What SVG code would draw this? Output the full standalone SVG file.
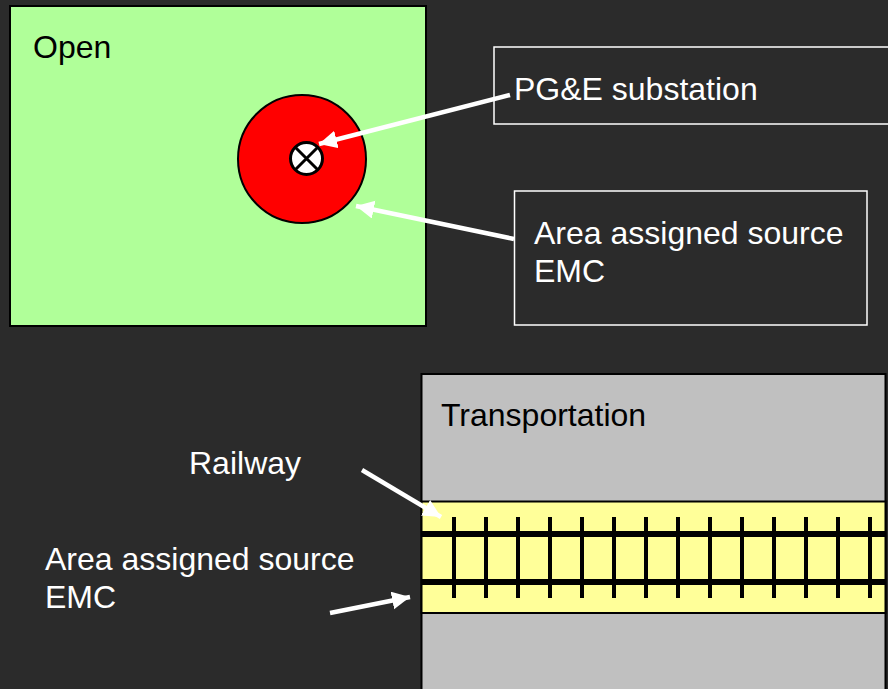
<svg xmlns="http://www.w3.org/2000/svg" width="888" height="689" viewBox="0 0 888 689">
<style>
text{font-family:"Liberation Sans",Arial,sans-serif;font-size:32px}
.w{fill:#fff}.k{fill:#000}
.box{fill:none;stroke:#fff;stroke-width:1.5}
.tie{stroke:#000;stroke-width:4;fill:none}
.rail{stroke:#000;stroke-width:6;fill:none}
.conn{stroke:#fff;stroke-width:4.5;fill:none;marker-end:url(#a)}
</style>
<defs>
<marker id="a" markerUnits="userSpaceOnUse" markerWidth="22" markerHeight="20" refX="18" refY="9" orient="auto"><path d="M0 0L18 9L0 18Z" fill="#fff"/></marker>
</defs>
<rect width="888" height="689" fill="#2b2b2b"/>
<g id="open">
<rect x="10" y="6" width="416" height="320" fill="#b0ff99" stroke="#000" stroke-width="2"/>
<text x="33" y="58" class="k">Open</text>
</g>
<g id="source-area">
<circle cx="302" cy="159" r="64" fill="#f00" stroke="#000" stroke-width="2"/>
</g>
<g id="substation">
<circle cx="306.500" cy="158.500" r="16" fill="#fff" stroke="#000" stroke-width="3"/>
<path d="M295.500 147.500L317.500 169.500M317.500 147.500L295.500 169.500" stroke="#000" stroke-width="3" fill="none"/>
</g>
<g id="label-substation">
<rect x="494" y="47" width="400" height="77" class="box"/>
<text x="514" y="100" class="w">PG&amp;E substation</text>
</g>
<g id="label-area">
<rect x="514.500" y="191" width="352.500" height="134" class="box"/>
<text x="534" y="244" class="w">Area assigned source</text>
<text x="534" y="282" class="w">EMC</text>
</g>
<g id="transportation">
<rect x="421.500" y="374" width="464" height="320" fill="#c0c0c0" stroke="#000" stroke-width="2"/>
<text x="441" y="426" class="k">Transportation</text>
</g>
<g id="railway">
<rect x="421.500" y="501.500" width="464" height="111.500" fill="#ffff99" stroke="#000" stroke-width="2"/>
<path class="tie" d="M454 517V598M486 517V598M518 517V598M550 517V598M582 517V598M614 517V598M646 517V598M678 517V598M710 517V598M742 517V598M774 517V598M806 517V598M838 517V598M870 517V598"/>
<path class="rail" d="M421 534H886M421 582H886"/>
</g>
<g id="label-railway"><text x="189" y="474" class="w">Railway</text></g>
<g id="label-area-2">
<text x="45" y="570" class="w">Area assigned source</text>
<text x="45" y="608" class="w">EMC</text>
</g>
<g id="connectors">
<path class="conn" d="M510 95L319 144"/>
<path class="conn" d="M514 239L356 206"/>
<path class="conn" d="M362 470L441 517"/>
<path class="conn" d="M330 613L410 597"/>
</g>
</svg>
